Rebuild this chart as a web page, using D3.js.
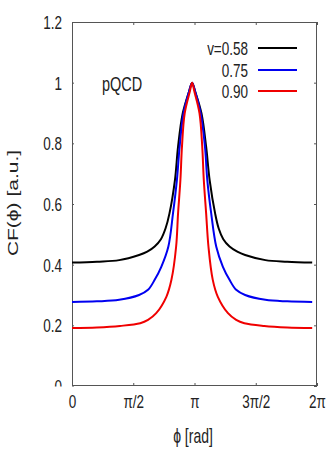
<!DOCTYPE html>
<html>
<head>
<meta charset="utf-8">
<script src="https://cdn.jsdelivr.net/npm/d3@7"></script>
<style>
  html, body { margin: 0; padding: 0; background: #fff; }
  text { font-family: "Liberation Sans", Arial, sans-serif; fill: #222; }
</style>
</head>
<body>
<div id="chart"></div>
<script>
// Values (phi in rad, CF in a.u.)
const phiV058 = [0, 0.64, 1.21, 1.72, 1.93, 2.12, 2.28, 2.40, 2.50, 2.64, 2.72, 2.84, 3.00, 3.08,
                 3.16, 3.32, 3.44, 3.53, 3.67, 3.76, 3.88, 4.04, 4.24, 4.44, 4.96, 5.52, 6.16];
const cfV058  = [0.407, 0.41, 0.415, 0.432, 0.443, 0.46, 0.484, 0.52, 0.569, 0.679, 0.789, 0.899, 0.97, 1.0,
                 0.97, 0.899, 0.789, 0.679, 0.569, 0.52, 0.484, 0.46, 0.443, 0.432, 0.415, 0.41, 0.407];

const phiV075 = [0, 0.64, 1.21, 1.72, 1.95, 2.12, 2.29, 2.47, 2.59, 2.69, 2.76, 2.86, 3.00, 3.08,
                 3.16, 3.30, 3.41, 3.47, 3.57, 3.70, 3.87, 4.04, 4.21, 4.44, 4.96, 5.52, 6.16];
const cfV075  = [0.277, 0.279, 0.284, 0.30, 0.317, 0.35, 0.393, 0.459, 0.569, 0.679, 0.789, 0.899, 0.97, 1.0,
                 0.97, 0.899, 0.789, 0.679, 0.569, 0.459, 0.393, 0.35, 0.317, 0.30, 0.284, 0.279, 0.277];

const phiV090 = [0, 0.64, 1.23, 1.75, 1.95, 2.16, 2.42, 2.55, 2.67, 2.72, 2.78, 2.82, 2.89, 3.02, 3.08,
                 3.14, 3.27, 3.34, 3.38, 3.44, 3.50, 3.61, 3.74, 4.00, 4.21, 4.42, 4.93, 5.52, 6.16];
const cfV090  = [0.191, 0.193, 0.198, 0.207, 0.218, 0.24, 0.294, 0.35, 0.459, 0.569, 0.679, 0.789, 0.899, 0.97, 1.0,
                 0.97, 0.899, 0.789, 0.679, 0.569, 0.459, 0.35, 0.294, 0.24, 0.218, 0.207, 0.198, 0.193, 0.191];

const seriesLabels = ["v=0.58", "0.75", "0.90"];
const seriesColors = ["#000000", "#0000f0", "#f00000"];

const yTicks = [0, 0.2, 0.4, 0.6, 0.8, 1, 1.2];
const yTickLabels = ["0", "0.2", "0.4", "0.6", "0.8", "1", "1.2"];
const xTicks = [0, Math.PI / 2, Math.PI, 3 * Math.PI / 2, 2 * Math.PI];
const xTickLabels = ["0", "π/2", "π", "3π/2", "2π"];

const W = 327, H = 452;
const margin = { top: 22, right: 10, bottom: 66, left: 72 };
const innerW = W - margin.left - margin.right;
const innerH = H - margin.top - margin.bottom;
const sy = 1.4; // text in the picture is stretched vertically

const svg = d3.select('#chart').append('svg')
    .attr('width', W)
    .attr('height', H);

const x = d3.scaleLinear().domain([0, 2 * Math.PI]).range([margin.left, margin.left + innerW]);
const y = d3.scaleLinear().domain([0, 1.2]).range([margin.top + innerH, margin.top]);

svg.append('defs').append('clipPath').attr('id', 'ylab-clip')
    .append('rect')
    .attr('x', -margin.left).attr('y', 0)
    .attr('width', margin.left + 2).attr('height', margin.top + innerH + 0.5);

// Left axis with labels
const yAxis = svg.append('g')
    .attr('transform', `translate(${margin.left},0)`)
    .attr('clip-path', 'url(#ylab-clip)')
    .call(d3.axisLeft(y).tickValues(yTicks).tickSize(-3).tickPadding(10)
        .tickFormat((d, i) => yTickLabels[i]));
yAxis.select('.domain').remove();
yAxis.selectAll('line').attr('stroke', '#555');
yAxis.selectAll('text')
    .attr('x', null).attr('dy', null)
    .attr('font-size', '13.5px')
    .attr('transform', `translate(-10,6.5) scale(1,${sy})`);

// Bottom axis with labels
const xAxis = svg.append('g')
    .attr('transform', `translate(0,${margin.top + innerH})`)
    .call(d3.axisBottom(x).tickValues(xTicks).tickSize(-3)
        .tickFormat((d, i) => xTickLabels[i]));
xAxis.select('.domain').remove();
xAxis.selectAll('line').attr('stroke', '#555');
xAxis.selectAll('text')
    .attr('y', null).attr('dy', null)
    .attr('font-size', '13.5px')
    .attr('transform', `translate(0,22) scale(1,${sy})`);

// Mirrored ticks on top and right
const topAxis = svg.append('g')
    .attr('transform', `translate(0,${margin.top})`)
    .call(d3.axisTop(x).tickValues(xTicks).tickSize(-3).tickFormat(''));
topAxis.select('.domain').remove();
topAxis.selectAll('line').attr('stroke', '#555');

const rightAxis = svg.append('g')
    .attr('transform', `translate(${margin.left + innerW},0)`)
    .call(d3.axisRight(y).tickValues(yTicks).tickSize(-3).tickFormat(''));
rightAxis.select('.domain').remove();
rightAxis.selectAll('line').attr('stroke', '#555');

// Frame
svg.append('rect')
    .attr('x', margin.left + 0.5).attr('y', margin.top + 0.5)
    .attr('width', innerW - 1).attr('height', innerH - 1)
    .attr('fill', 'none')
    .attr('stroke', '#555')
    .attr('stroke-width', 1);

// Curves
const series = [
    { phi: phiV058, cf: cfV058 },
    { phi: phiV075, cf: cfV075 },
    { phi: phiV090, cf: cfV090 }
];
const line = d3.line()
    .x(d => x(d[0]))
    .y(d => y(d[1]))
    .curve(d3.curveCatmullRom.alpha(0.5));

series.forEach((s, i) => {
    svg.append('path')
        .datum(s.phi.map((p, j) => [p, s.cf[j]]))
        .attr('fill', 'none')
        .attr('stroke', seriesColors[i])
        .attr('stroke-width', 2)
        .attr('d', line);
});

// Legend
const legendRowY = [48, 70, 91];
const legend = svg.append('g');
seriesLabels.forEach((lab, i) => {
    legend.append('text')
        .attr('text-anchor', 'end')
        .attr('font-size', '13.5px')
        .attr('transform', `translate(248,${legendRowY[i] + 6.5}) scale(1,${sy})`)
        .text(lab);
    legend.append('line')
        .attr('x1', 258).attr('x2', 297)
        .attr('y1', legendRowY[i]).attr('y2', legendRowY[i])
        .attr('stroke', seriesColors[i])
        .attr('stroke-width', 2);
});

// Annotation
svg.append('text')
    .attr('font-size', '14.5px')
    .attr('transform', `translate(102,91) scale(1,${sy})`)
    .text('pQCD');

// Axis titles
svg.append('text')
    .attr('text-anchor', 'middle')
    .attr('font-size', '14px')
    .attr('transform', `translate(193,443) scale(1,${sy})`)
    .text('ϕ [rad]');

svg.append('text')
    .attr('text-anchor', 'middle')
    .attr('font-size', '15px')
    .attr('transform', `translate(18,203) scale(1,${sy}) rotate(-90)`)
    .text('CF(ϕ) [a.u.]');
</script>
</body>
</html>
